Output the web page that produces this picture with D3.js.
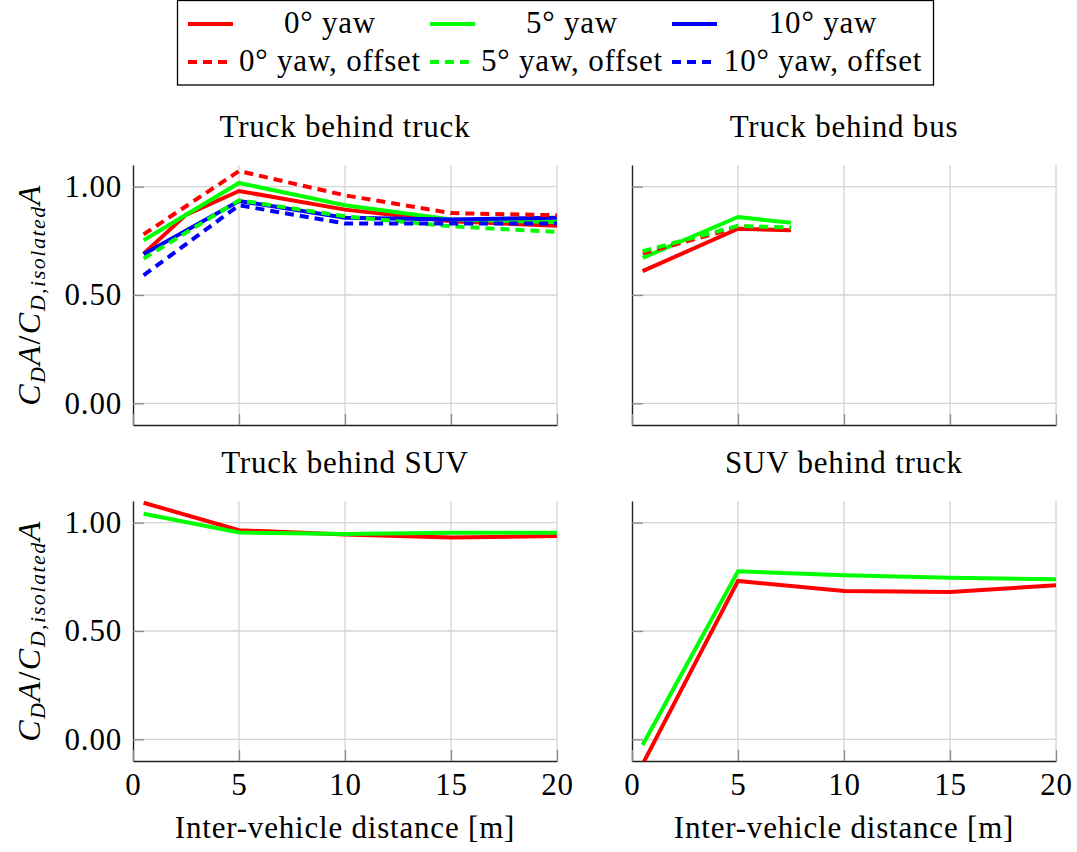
<!DOCTYPE html>
<html>
<head>
<meta charset="utf-8">
<script src="https://cdn.jsdelivr.net/npm/d3@7"></script>
<style>
  body { margin: 0; background: #fff; }
  svg text { fill: #000; }
</style>
</head>
<body>
<div id="chart"></div>
<script>
// x positions (inter-vehicle distance, m)
var distance = [0.5, 5, 10, 15, 20];
var distanceTT0 = [0.5, 2.5, 5, 10, 15, 20];
var distanceBus = [0.5, 5, 7.5];

// Truck behind truck
var ttYaw0 = [0.69, 0.87, 0.98, 0.894, 0.84, 0.82];
var ttYaw5 = [0.753, 1.017, 0.914, 0.848, 0.837];
var ttYaw10 = [0.688, 0.934, 0.857, 0.848, 0.857];
var ttYaw0Off = [0.78, 1.072, 0.96, 0.878, 0.868];
var ttYaw5Off = [0.668, 0.937, 0.863, 0.817, 0.791];
var ttYaw10Off = [0.591, 0.914, 0.83, 0.83, 0.83];

// Truck behind bus
var tbYaw0 = [0.61, 0.806, 0.799];
var tbYaw5 = [0.671, 0.86, 0.833];
var tbYaw0Off = [0.692, 0.813, 0.806];
var tbYaw5Off = [0.702, 0.819, 0.811];

// Truck behind SUV
var tsYaw0 = [1.092, 0.965, 0.945, 0.931, 0.938];
var tsYaw5 = [1.041, 0.955, 0.948, 0.954, 0.954];

// SUV behind truck
var stYaw0 = [-0.115, 0.731, 0.685, 0.68, 0.711];
var stYaw5 = [-0.026, 0.776, 0.757, 0.746, 0.739];

var xTicks = [0, 5, 10, 15, 20];
var yTicks = [0, 0.5, 1.0];
var legendLabels = ["0° yaw", "5° yaw", "10° yaw", "0° yaw, offset", "5° yaw, offset", "10° yaw, offset"];
var colors = ["#ff0000", "#00ff00", "#0000ff"];

var serif = "'Liberation Serif', 'DejaVu Serif', 'Noto Serif', Tinos, serif";

function zip(xs, ys) {
    return xs.map(function(x, i) { return { x: x, y: ys[i] }; });
}

var panels = [
    { title: "Truck behind truck", left: 133, top: 165, yLabels: true, xLabels: false,
      series: [
        { data: zip(distanceTT0, ttYaw0), c: 0, dash: false },
        { data: zip(distance, ttYaw5), c: 1, dash: false },
        { data: zip(distance, ttYaw10), c: 2, dash: false },
        { data: zip(distance, ttYaw0Off), c: 0, dash: true },
        { data: zip(distance, ttYaw5Off), c: 1, dash: true },
        { data: zip(distance, ttYaw10Off), c: 2, dash: true }
      ] },
    { title: "Truck behind bus", left: 632, top: 165, yLabels: false, xLabels: false,
      series: [
        { data: zip(distanceBus, tbYaw0), c: 0, dash: false },
        { data: zip(distanceBus, tbYaw5), c: 1, dash: false },
        { data: zip(distanceBus, tbYaw0Off), c: 0, dash: true },
        { data: zip(distanceBus, tbYaw5Off), c: 1, dash: true }
      ] },
    { title: "Truck behind SUV", left: 133, top: 501, yLabels: true, xLabels: true,
      series: [
        { data: zip(distance, tsYaw0), c: 0, dash: false },
        { data: zip(distance, tsYaw5), c: 1, dash: false }
      ] },
    { title: "SUV behind truck", left: 632, top: 501, yLabels: false, xLabels: true,
      series: [
        { data: zip(distance, stYaw0), c: 0, dash: false },
        { data: zip(distance, stYaw5), c: 1, dash: false }
      ] }
];

var width = 424, height = 260;
var fontSize = 31, letterSpacing = 0.8;

var svg = d3.select("#chart").append("svg")
    .attr("width", 1077)
    .attr("height", 852)
    .style("font-family", serif);

var x = d3.scaleLinear().domain([0, 20]).range([0, width]);
var y = d3.scaleLinear().domain([-0.1, 1.1]).range([height, 0]);

var line = d3.line()
    .x(function(d) { return x(d.x); })
    .y(function(d) { return y(d.y); });

function styleText(sel, size) {
    return sel.attr("font-family", serif)
        .style("font-family", serif)
        .style("font-size", (size || fontSize) + "px")
        .style("letter-spacing", letterSpacing + "px");
}

panels.forEach(function(p, pi) {
    var g = svg.append("g")
        .attr("transform", "translate(" + p.left + "," + p.top + ")");

    // grid
    g.append("g").selectAll("line").data(xTicks.slice(1)).join("line")
        .attr("x1", function(d) { return x(d); }).attr("x2", function(d) { return x(d); })
        .attr("y1", 0).attr("y2", height)
        .attr("stroke", "#d4d4d4").attr("stroke-width", 1.3);
    g.append("g").selectAll("line").data(yTicks).join("line")
        .attr("x1", 0).attr("x2", width)
        .attr("y1", function(d) { return y(d); }).attr("y2", function(d) { return y(d); })
        .attr("stroke", "#d4d4d4").attr("stroke-width", 1.3);

    // axes, ticks pointing inward
    var yAxis = d3.axisLeft(y).tickValues(yTicks).tickSizeInner(-11).tickSizeOuter(0).tickPadding(11)
        .tickFormat(p.yLabels ? d3.format(".2f") : function() { return ""; });
    var xAxis = d3.axisBottom(x).tickValues(xTicks).tickSizeInner(-11).tickSizeOuter(0).tickPadding(12)
        .tickFormat(p.xLabels ? d3.format("d") : function() { return ""; });

    [g.append("g").call(yAxis),
     g.append("g").attr("transform", "translate(0," + height + ")").call(xAxis)].forEach(function(ax) {
        ax.attr("font-family", serif);
        ax.select(".domain").attr("stroke", "#222").attr("stroke-width", 1.4);
        ax.selectAll(".tick line").attr("stroke", "#8c8c8c").attr("stroke-width", 1.3);
        styleText(ax.selectAll(".tick text")).attr("fill", "#000");
    });

    // clip lines to the plot area
    svg.append("defs").append("clipPath").attr("id", "clip" + pi)
        .append("rect").attr("width", width).attr("height", height);

    g.append("g").attr("clip-path", "url(#clip" + pi + ")")
        .selectAll("path").data(p.series).join("path")
        .attr("fill", "none")
        .attr("stroke", function(s) { return colors[s.c]; })
        .attr("stroke-width", 4)
        .attr("stroke-dasharray", function(s) { return s.dash ? "9,6" : null; })
        .attr("d", function(s) { return line(s.data); });

    styleText(g.append("text"))
        .attr("x", width / 2).attr("y", -28)
        .attr("text-anchor", "middle")
        .text(p.title);

    if (p.xLabels) {
        styleText(g.append("text"))
            .attr("x", width / 2).attr("y", height + 77)
            .attr("text-anchor", "middle")
            .text("Inter-vehicle distance [m]");
    }

    if (p.yLabels) {
        var t = styleText(svg.append("text"), 32)
            .attr("transform", "translate(40," + (p.top + height / 2) + ") rotate(-90)")
            .attr("text-anchor", "middle")
            .style("font-style", "italic")
            .style("letter-spacing", "1.5px");
        t.append("tspan").text("C");
        t.append("tspan").attr("dy", 5).style("font-size", "22px").text("D");
        t.append("tspan").attr("dy", -5).text("A");
        t.append("tspan").style("font-style", "normal").text("/");
        t.append("tspan").text("C");
        t.append("tspan").attr("dy", 5).style("font-size", "22px").text("D,isolated");
        t.append("tspan").attr("dy", -5).text("A");
    }
});

// legend
var legend = svg.append("g");
legend.append("rect")
    .attr("x", 177.5).attr("y", 0.5).attr("width", 756).attr("height", 84.5)
    .attr("fill", "#fff").attr("stroke", "#000").attr("stroke-width", 1.3);

var colX = d3.scalePoint().domain([0, 1, 2]).range([188, 672]);
var rowY = d3.scalePoint().domain([0, 1]).range([24, 62]);
var textX = [330, 572, 823];

legendLabels.forEach(function(lbl, i) {
    var c = i % 3, r = Math.floor(i / 3);
    legend.append("line")
        .attr("x1", colX(c)).attr("x2", colX(c) + 45)
        .attr("y1", rowY(r)).attr("y2", rowY(r))
        .attr("stroke", colors[c]).attr("stroke-width", 4)
        .attr("stroke-dasharray", r === 1 ? "9,6" : null);
    styleText(legend.append("text"))
        .attr("x", textX[c]).attr("y", rowY(r) + 9)
        .attr("text-anchor", "middle")
        .text(lbl);
});
</script>
</body>
</html>
